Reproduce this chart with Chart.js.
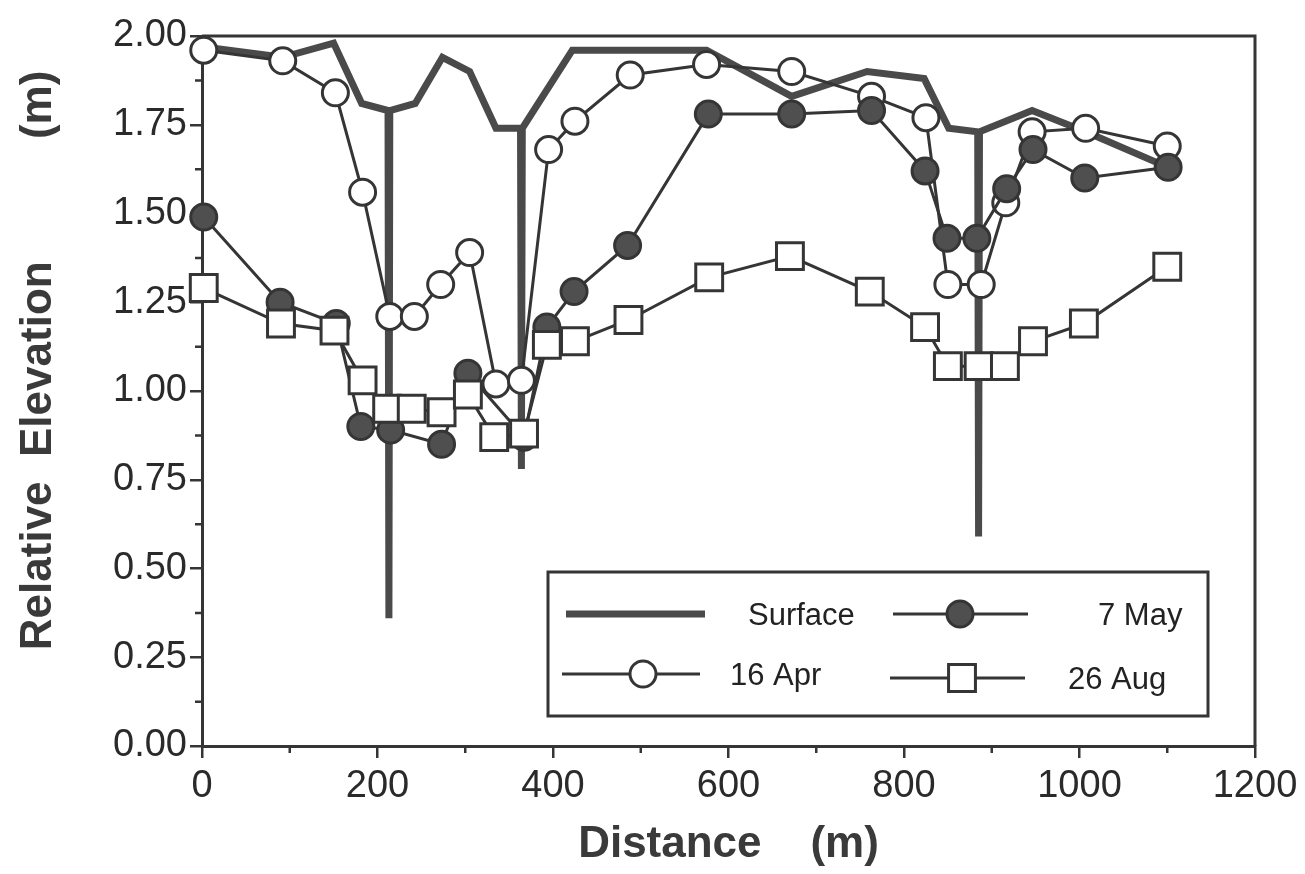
<!DOCTYPE html>
<html>
<head>
<meta charset="utf-8">
<title>Relative Elevation</title>
<script src="https://cdn.jsdelivr.net/npm/chart.js@4.4.0/dist/chart.umd.min.js"></script>
<style>
  body { margin: 0; background: #fff; }
  #wrap { width: 1305px; height: 874px; }
</style>
</head>
<body>
<div id="wrap"><canvas id="perfil" width="1305" height="874"></canvas></div>
<script>
// distancia (m) y elevacion relativa (m)
var surfaceX = [0, 92, 150, 182, 212, 213, 214, 243, 274, 305, 335, 363, 364, 365, 422, 575, 672, 758, 823, 851, 884, 885, 886, 946, 1007, 1101];
var surfaceY = [1.97, 1.94, 1.98, 1.81, 1.79, 0.36, 1.79, 1.81, 1.94, 1.90, 1.74, 1.74, 0.78, 1.74, 1.96, 1.96, 1.83, 1.90, 1.88, 1.74, 1.73, 0.59, 1.73, 1.79, 1.73, 1.63];

var apr16X = [2, 92, 152, 183, 214, 242, 272, 305, 335, 364, 395, 425, 488, 575, 672, 763, 825, 850, 888, 916, 946, 1007, 1100];
var apr16Y = [1.96, 1.93, 1.84, 1.56, 1.21, 1.21, 1.30, 1.39, 1.02, 1.03, 1.68, 1.76, 1.89, 1.92, 1.90, 1.83, 1.77, 1.30, 1.30, 1.53, 1.73, 1.74, 1.69];

var may7X = [2, 89, 153, 181, 215, 273, 303, 367, 393, 424, 485, 577, 672, 763, 824, 849, 883, 917, 947, 1006, 1101];
var may7Y = [1.49, 1.25, 1.19, 0.90, 0.89, 0.85, 1.05, 0.87, 1.18, 1.28, 1.41, 1.78, 1.78, 1.79, 1.62, 1.43, 1.43, 1.57, 1.68, 1.60, 1.63];

var aug26X = [2, 90, 151, 183, 211, 239, 273, 303, 333, 367, 393, 425, 486, 578, 670, 761, 824, 850, 885, 915, 947, 1005, 1100];
var aug26Y = [1.29, 1.19, 1.17, 1.03, 0.95, 0.95, 0.94, 0.99, 0.87, 0.88, 1.13, 1.14, 1.20, 1.32, 1.38, 1.28, 1.18, 1.07, 1.07, 1.07, 1.14, 1.19, 1.35];

var seriesNames = ['Surface', '16 Apr', '7 May', '26 Aug'];

function pts(xs, ys) {
  return xs.map(function (x, i) { return { x: x, y: ys[i] }; });
}

var ink = '#353535';
var fuente = "'Liberation Sans', Arial, sans-serif";

// marco superior/derecho y marcas menores
var marcoPlugin = {
  id: 'marco',
  beforeDatasetsDraw: function (chart) {
    var ctx = chart.ctx, a = chart.chartArea;
    var sx = chart.scales.x, sy = chart.scales.y;
    ctx.save();
    ctx.strokeStyle = ink;
    ctx.lineWidth = 3;
    ctx.beginPath();
    ctx.moveTo(a.left, a.top);
    ctx.lineTo(a.right, a.top);
    ctx.lineTo(a.right, a.bottom);
    ctx.stroke();
    ctx.lineWidth = 2.5;
    ctx.beginPath();
    for (var v = 0.125; v < 2; v += 0.25) {
      var py = sy.getPixelForValue(v);
      ctx.moveTo(a.left - 7, py);
      ctx.lineTo(a.left, py);
    }
    for (var d = 100; d < 1200; d += 200) {
      var px = sx.getPixelForValue(d);
      ctx.moveTo(px, a.bottom);
      ctx.lineTo(px, a.bottom + 7);
    }
    ctx.stroke();
    ctx.restore();
  }
};

// leyenda dentro del grafico
var leyendaPlugin = {
  id: 'leyenda',
  afterDraw: function (chart) {
    var ctx = chart.ctx;
    var ds = chart.data.datasets;
    ctx.save();
    ctx.fillStyle = '#fff';
    ctx.fillRect(548, 572, 660, 144);
    ctx.strokeStyle = ink;
    ctx.lineWidth = 3;
    ctx.strokeRect(548, 572, 660, 144);

    var items = [
      { i: 0, x1: 566, x2: 705, mx: null, tx: 748, y: 614 },
      { i: 2, x1: 893, x2: 1028, mx: 960, tx: 1098, y: 614 },
      { i: 1, x1: 562, x2: 700, mx: 643, tx: 730, y: 674 },
      { i: 3, x1: 890, x2: 1025, mx: 962, tx: 1068, y: 678 }
    ];
    items.forEach(function (it) {
      var d = ds[it.i];
      ctx.strokeStyle = d.borderColor;
      ctx.lineWidth = d.borderWidth;
      ctx.beginPath();
      ctx.moveTo(it.x1, it.y);
      ctx.lineTo(it.x2, it.y);
      ctx.stroke();
      if (it.mx !== null) {
        ctx.fillStyle = d.pointBackgroundColor;
        ctx.strokeStyle = d.pointBorderColor;
        ctx.lineWidth = d.pointBorderWidth;
        ctx.beginPath();
        if (d.pointStyle === 'rect') {
          var s = d.pointRadius * Math.SQRT1_2;
          ctx.rect(it.mx - s, it.y - s, 2 * s, 2 * s);
        } else {
          ctx.arc(it.mx, it.y, d.pointRadius, 0, Math.PI * 2);
        }
        ctx.fill();
        ctx.stroke();
      }
      ctx.fillStyle = '#222';
      ctx.font = '31px ' + fuente;
      ctx.textBaseline = 'middle';
      ctx.textAlign = 'left';
      ctx.fillText(seriesNames[it.i], it.tx, it.y + 2);
    });
    ctx.restore();
  }
};

var ctx1 = document.getElementById('perfil').getContext('2d');
var grafico = new Chart(ctx1, {
  type: 'line',
  data: {
    datasets: [{
      label: seriesNames[0],
      data: pts(surfaceX, surfaceY),
      borderColor: '#4a4a4a',
      borderWidth: 7,
      pointRadius: 0,
      tension: 0,
      clip: false,
      order: 4
    }, {
      label: seriesNames[1],
      data: pts(apr16X, apr16Y),
      borderColor: ink,
      borderWidth: 3,
      pointStyle: 'circle',
      pointRadius: 13,
      pointBorderWidth: 3,
      pointBackgroundColor: '#fff',
      pointBorderColor: ink,
      tension: 0,
      clip: false,
      order: 3
    }, {
      label: seriesNames[2],
      data: pts(may7X, may7Y),
      borderColor: ink,
      borderWidth: 3,
      pointStyle: 'circle',
      pointRadius: 13,
      pointBorderWidth: 3,
      pointBackgroundColor: '#4f4f4f',
      pointBorderColor: ink,
      tension: 0,
      clip: false,
      order: 2
    }, {
      label: seriesNames[3],
      data: pts(aug26X, aug26Y),
      borderColor: ink,
      borderWidth: 3,
      pointStyle: 'rect',
      pointRadius: 19,
      pointBorderWidth: 3,
      pointBackgroundColor: '#fff',
      pointBorderColor: ink,
      tension: 0,
      clip: false,
      order: 1
    }]
  },
  options: {
    responsive: false,
    animation: false,
    events: [],
    layout: { padding: { left: 0, top: 36, right: 50, bottom: 0 } },
    plugins: {
      legend: { display: false },
      tooltip: { enabled: false }
    },
    scales: {
      x: {
        type: 'linear',
        min: 0,
        max: 1200,
        afterFit: function (scale) { scale.height = 128; },
        border: { display: true, color: ink, width: 3 },
        grid: { display: true, drawOnChartArea: false, drawTicks: true, tickLength: 12, color: ink, lineWidth: 2.5 },
        ticks: {
          stepSize: 200,
          maxRotation: 0,
          padding: 6,
          color: '#2a2a2a',
          font: { family: fuente, size: 38 },
          callback: function (v) { return String(v); }
        },
        title: {
          display: true,
          text: 'Distance    (m)',
          color: '#3a3a3a',
          font: { family: fuente, size: 44, weight: 'bold' },
          padding: { top: 0, bottom: 3 }
        }
      },
      y: {
        type: 'linear',
        min: 0,
        max: 2,
        afterFit: function (scale) { scale.width = 202; },
        border: { display: true, color: ink, width: 3 },
        grid: { display: true, drawOnChartArea: false, drawTicks: true, tickLength: 12, color: ink, lineWidth: 2.5 },
        ticks: {
          stepSize: 0.25,
          padding: 3,
          color: '#2a2a2a',
          font: { family: fuente, size: 38 },
          callback: function (v) { return v.toFixed(2); }
        },
        title: {
          display: true,
          text: '     Relative  Elevation          (m)',
          color: '#3a3a3a',
          font: { family: fuente, size: 44, weight: 'bold' },
          padding: { top: 12, bottom: 0 }
        }
      }
    }
  },
  plugins: [marcoPlugin, leyendaPlugin]
});
</script>
</body>
</html>
